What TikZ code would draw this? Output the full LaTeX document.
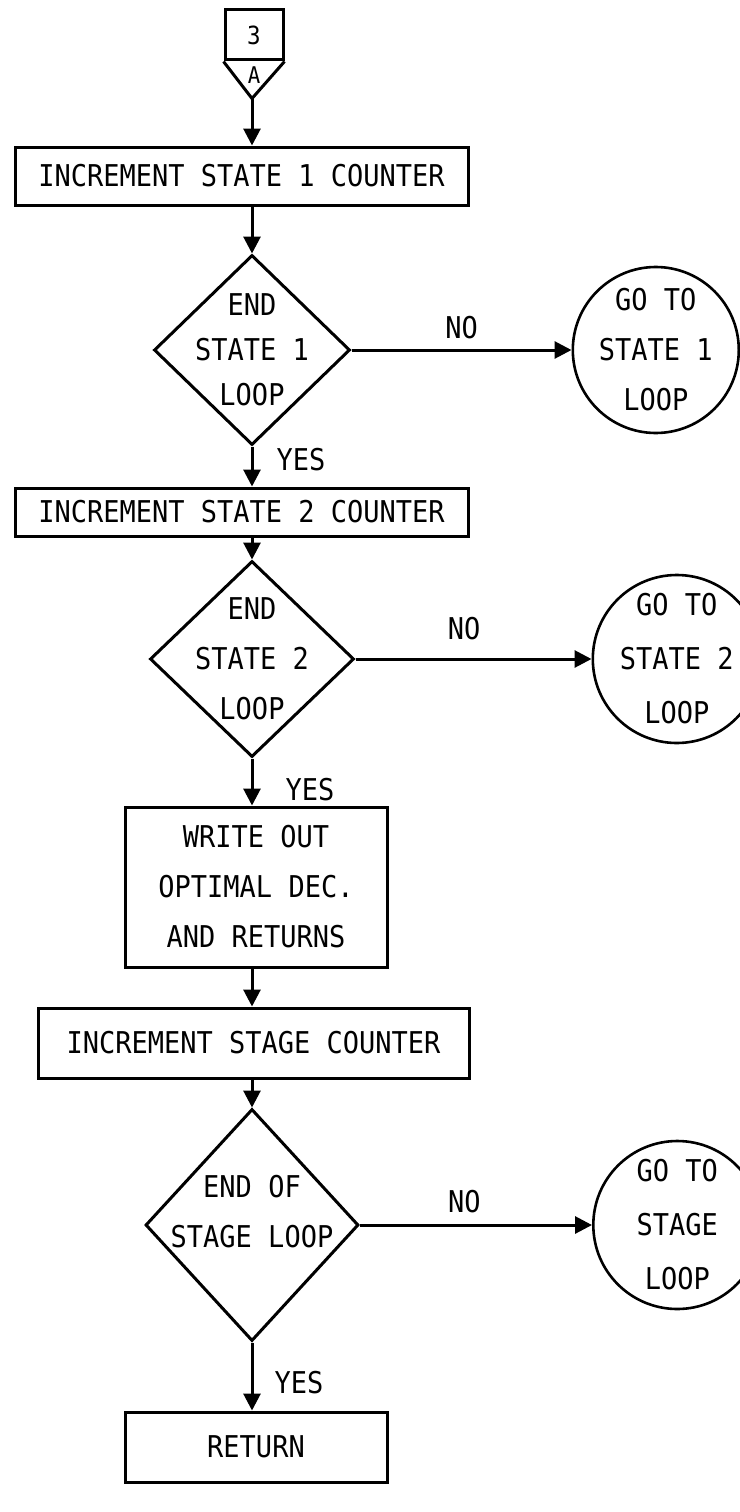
\documentclass[tikz,border=0pt]{standalone}
\usepackage{fontspec}
\usetikzlibrary{arrows.meta,positioning,shapes.geometric}
\newfontfamily\flowfont[FakeStretch=0.9]{DejaVu Sans Mono}
\newcommand{\fl}[1]{\flowfont\fontsize{30}{#1}\selectfont}
\tikzset{
  box/.style={draw,line width=3pt,rectangle,align=center,inner sep=0pt,font=\fl{50}},
  dec/.style={draw,line width=3pt,diamond,align=center,inner sep=-30pt,font=\fl{45}},
  goto/.style={draw,line width=2.6pt,circle,align=center,inner sep=-10pt,font=\fl{54}},
  lab/.style={inner sep=0pt,font=\fl{30}},
  ar/.style={line width=3pt,-{Triangle[length=17pt,width=17pt]}},
}

\begin{document}
\begin{tikzpicture}[x=1pt,y=1pt]
  \useasboundingbox (0,0) rectangle (739,-1512);
  % ---- entry connector
  \node[box,minimum width=58pt,minimum height=50pt,font=\flowfont\fontsize{25}{26}\selectfont] (con) at (254,-35) {3};
  \coordinate[below=37pt of con.south,xshift=-2pt] (contip);
  \draw[line width=3pt] (con.south west) -- (contip) -- (con.south east);
  \node[lab,font=\flowfont\fontsize{23}{24}\selectfont,below=5pt of con.south] (cona) {A};

  % ---- state loops
  \node[box,minimum width=453pt,minimum height=58pt,below=47pt of contip,xshift=-10.5pt] (inc1) {INCREMENT STATE 1 COUNTER};
  \node[dec,minimum width=196pt,minimum height=190pt,below=47pt of inc1,xshift=10.5pt] (e1) {END\\STATE 1\\LOOP};
  \node[goto,minimum size=166pt,right=220pt of e1,font=\fl{50}] (g1) {GO TO\\STATE 1\\LOOP};
  \node[box,minimum width=453pt,minimum height=48pt,below=40pt of e1,xshift=-10.5pt] (inc2) {INCREMENT STATE 2 COUNTER};
  \node[dec,minimum width=204pt,minimum height=196pt,below=22pt of inc2,xshift=10.5pt,font=\fl{50}] (e2) {END\\STATE 2\\LOOP};
  \node[goto,minimum size=168pt,right=236pt of e2] (g2) {GO TO\\STATE 2\\LOOP};

  % ---- output and stage loop
  \node[box,minimum width=262pt,minimum height=160pt,below=47pt of e2,xshift=4pt] (wr) {WRITE OUT\\OPTIMAL DEC.\\AND RETURNS};
  \node[box,minimum width=431pt,minimum height=70pt,below=38pt of wr,xshift=-2.5pt] (incs) {INCREMENT STAGE COUNTER};
  \node[dec,minimum width=213pt,minimum height=232pt,below=28pt of incs,xshift=-1.5pt,font=\fl{50},text depth=28pt] (e3) {END OF\\STAGE LOOP};
  \node[goto,minimum size=168pt,right=232pt of e3] (g3) {GO TO\\STAGE\\LOOP};
  \node[box,minimum width=262pt,minimum height=70pt,below=68pt of e3,xshift=4pt] (ret) {RETURN};

  % ---- flow
  \draw[ar] (contip) -- (contip |- inc1.north);
  \draw[ar] (e1.north |- inc1.south) -- (e1.north);
  \draw[ar] (e1.south) -- node[lab,right=23pt,yshift=7pt] (y1) {YES} (e1.south |- inc2.north);
  \draw[ar] (e2.north |- inc2.south) -- (e2.north);
  \draw[ar] (e2.south) -- node[lab,right=32pt,yshift=-8pt] (y2) {YES} (e2.south |- wr.north);
  \draw[ar] (e2.south |- wr.south) -- (e2.south |- incs.north);
  \draw[ar] (e3.north |- incs.south) -- (e3.north);
  \draw[ar] (e3.south) -- node[lab,right=21pt,yshift=-6pt] (y3) {YES} (e3.south |- ret.north);
  \draw[ar] (e1.east) -- node[lab,pos=0.5,above=10pt] (n1) {NO} (g1.west);
  \draw[ar] (e2.east) -- node[lab,pos=0.46,above=18pt] (n2) {NO} (g2.west);
  \draw[ar] (e3.east) -- node[lab,pos=0.45,above=11pt] (n3) {NO} (g3.west);
\end{tikzpicture}
\end{document}
